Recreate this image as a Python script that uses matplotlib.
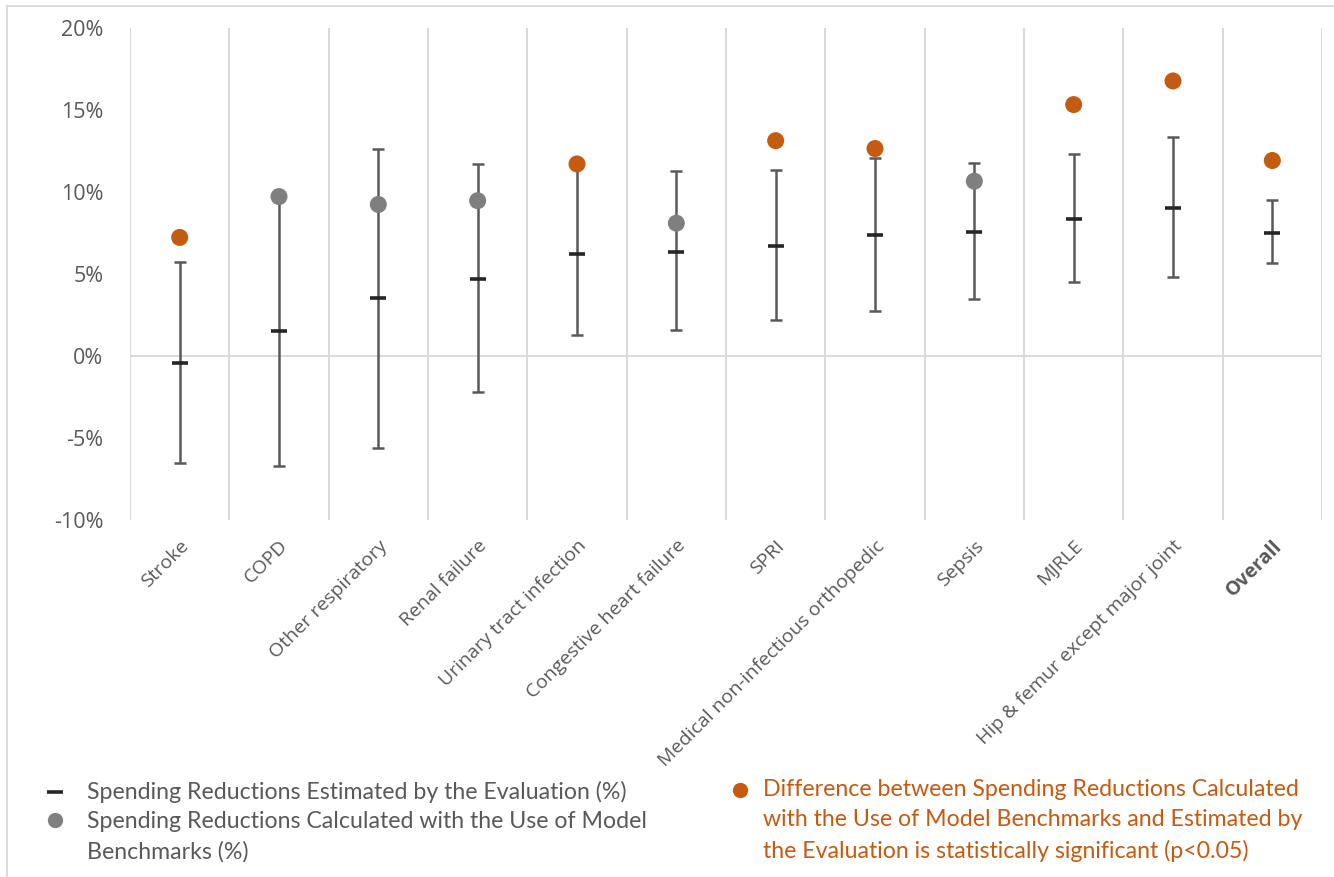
import matplotlib
matplotlib.use('Agg')
import matplotlib.pyplot as plt
from matplotlib.lines import Line2D

# Data (percent)
categories = ['Stroke', 'COPD', 'Other respiratory', 'Renal failure', 'Urinary tract infection',
              'Congestive heart failure', 'SPRI', 'Medical non-infectious orthopedic', 'Sepsis',
              'MJRLE', 'Hip & femur except major joint', 'Overall']
estimated = [-0.44, 1.51, 3.52, 4.71, 6.24, 6.37, 6.70, 7.37, 7.58, 8.38, 9.05, 7.50]
ci_low = [-6.55, -6.70, -5.61, -2.20, 1.28, 1.61, 2.20, 2.74, 3.48, 4.54, 4.82, 5.65]
ci_high = [5.72, 9.60, 12.60, 11.69, 11.60, 11.31, 11.35, 12.08, 11.77, 12.29, 13.34, 9.49]
benchmark = [7.23, 9.72, 9.24, 9.47, 11.71, 8.10, 13.13, 12.65, 10.66, 15.33, 16.77, 11.92]
significant = [True, False, False, False, True, False, True, True, False, True, True, True]

GRAY = '#7F7F7F'
ORANGE = '#C55A11'
TEXT = '#595959'
GRID = '#D9D9D9'
AXIS_FONT = ['Open Sans', 'DejaVu Sans']
LEGEND_FONT = ['Lato', 'DejaVu Sans']

plt.rcParams['font.family'] = AXIS_FONT

W, H = 1334, 877
fig = plt.figure(figsize=(W / 100, H / 100), dpi=100)

def fx(px):
    return px / W

def fy(py):
    return 1 - py / H

# chart-area border (only top and left visible in the crop)
fig.add_artist(Line2D([fx(7), 1], [fy(6), fy(6)], color=GRID, lw=1.3, transform=fig.transFigure))
fig.add_artist(Line2D([fx(7), fx(7)], [fy(6), 0], color=GRID, lw=1.3, transform=fig.transFigure))

ax = fig.add_axes([fx(130), fy(520), (1322 - 130) / W, (520 - 28) / H])

x = list(range(len(categories)))
yerr = [[e - l for e, l in zip(estimated, ci_low)],
        [h - e for e, h in zip(estimated, ci_high)]]

ax.errorbar(x, estimated, yerr=yerr, fmt='none', ecolor='#595959', elinewidth=1.8,
            capsize=4, capthick=1.8, zorder=3)
dot_colors = [ORANGE if s else GRAY for s in significant]
ax.scatter(x, benchmark, s=150, c=dot_colors, zorder=4, linewidths=0)
ax.plot(x, estimated, linestyle='none', marker='_', markersize=12, mew=2.6,
        color='#262626', zorder=5)

ax.set_xlim(-0.5, len(categories) - 0.5)
ax.set_ylim(-10, 20)
ax.set_yticks(range(-10, 21, 5))
ax.set_yticklabels([f'{v}%' for v in range(-10, 21, 5)], fontsize=15.5, color=TEXT)

ax.set_xticks([i - 0.5 for i in range(len(categories) + 1)], minor=True)
ax.grid(which='minor', axis='x', color=GRID, lw=1.4)
ax.axhline(0, color=GRID, lw=1.4, zorder=1)
ax.tick_params(which='both', length=0)
ax.tick_params(axis='y', pad=19)
ax.tick_params(axis='x', pad=12)
for s in ax.spines.values():
    s.set_visible(False)

ax.set_xticks(x)
ax.set_xticklabels(categories, rotation=45, ha='right', rotation_mode='anchor',
                   fontsize=14, color=TEXT)
ax.get_xticklabels()[-1].set_fontweight('bold')

# Legend, drawn by hand
fig.add_artist(Line2D([fx(55)], [fy(792)], marker='_', markersize=11, mew=2.6,
                      color='#262626', transform=fig.transFigure))
fig.add_artist(Line2D([fx(55)], [fy(820)], marker='o', markersize=11, mew=0,
                      color=GRAY, transform=fig.transFigure))
fig.add_artist(Line2D([fx(740)], [fy(790)], marker='o', markersize=11, mew=0,
                      color=ORANGE, transform=fig.transFigure))

left_lines = ['Spending Reductions Estimated by the Evaluation (%)',
              'Spending Reductions Calculated with the Use of Model',
              'Benchmarks (%)']
right_lines = ['Difference between Spending Reductions Calculated',
               'with the Use of Model Benchmarks and Estimated by',
               'the Evaluation is statistically significant (p<0.05)']
for i, t in enumerate(left_lines):
    fig.text(fx(87), fy(792 + 30 * i), t, fontsize=16.7, color=TEXT, va='center',
             ha='left', family=LEGEND_FONT)
for i, t in enumerate(right_lines):
    fig.text(fx(763), fy(789 + 31 * i), t, fontsize=16.7, color=ORANGE, va='center',
             ha='left', family=LEGEND_FONT)

fig.savefig('out.png', dpi=100)
